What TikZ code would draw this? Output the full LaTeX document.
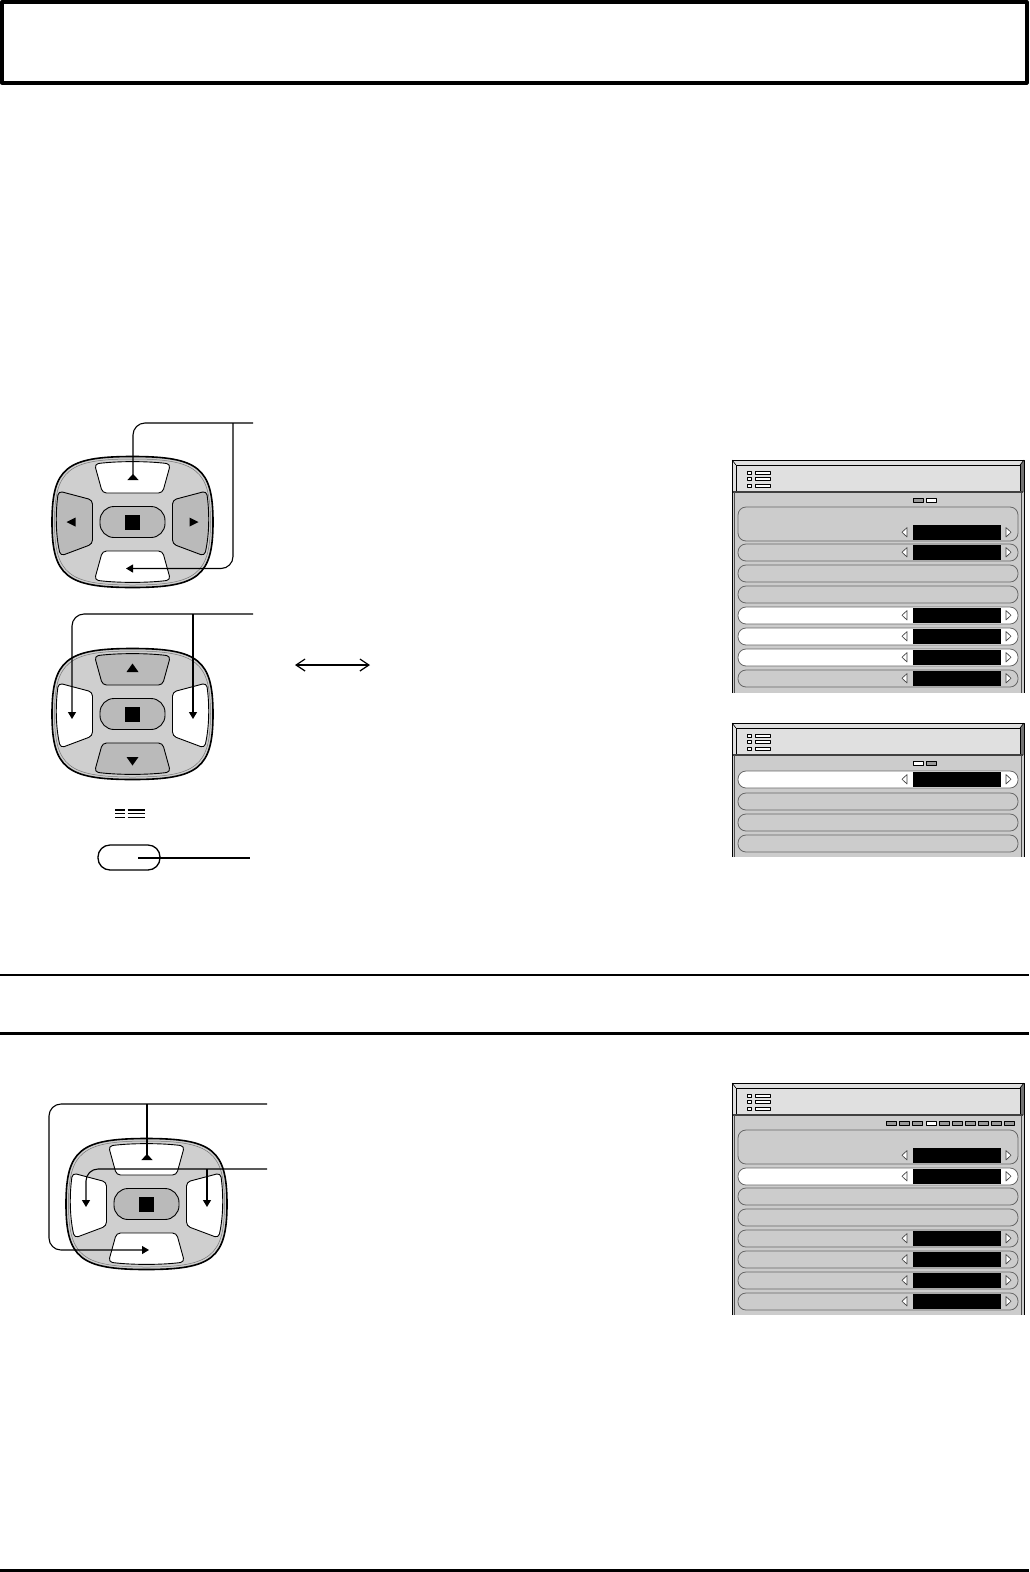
\documentclass[tikz,border=0pt]{standalone}
\usetikzlibrary{arrows.meta}
\newcommand\padring{%
  \filldraw[fill=black!19, line width=1.6pt] (80.5,0) .. controls (80.5,-54) and (66,-65.5) .. (0,-65.5) .. controls (-66,-65.5) and (-80.5,-54) .. (-80.5,0) .. controls (-80.5,54) and (-66,65.5) .. (0,65.5) .. controls (66,65.5) and (80.5,54) .. (80.5,0) -- cycle;
  \draw[black!55, line width=0.5pt] (78,0) .. controls (78,-52) and (64,-63) .. (0,-63) .. controls (-64,-63) and (-78,-52) .. (-78,0) .. controls (-78,52) and (-64,63) .. (0,63) .. controls (64,63) and (78,52) .. (78,0) -- cycle;}
\newcommand\padtop[1]{\filldraw[fill=#1, line width=0.9pt, rounded corners=4pt] (-38,-58) .. controls (-15,-61) and (15,-61) .. (38,-58) -- (30,-29) -- (-30,-29) -- cycle;}
\newcommand\padbot[1]{\filldraw[fill=#1, line width=0.9pt, rounded corners=4pt] (38,58) .. controls (15,61) and (-15,61) .. (-38,58) -- (-30,29) -- (30,29) -- cycle;}
\newcommand\padside[1]{\filldraw[fill=#1, line width=0.9pt, rounded corners=4pt] (-72,34) .. controls (-77,12) and (-77,-10) .. (-74,-31) -- (-40,-22) -- (-40,22) -- cycle;}
\newcommand\padcenter{%
  \filldraw[fill=black!27, line width=0.9pt, rounded corners=14pt] (-32.5,-15.5) rectangle (32.5,15.5);
  \fill (-7.5,-7.5) rectangle (7.5,7.5);}
\newcommand\mrow[4]{%
  \filldraw[fill=#3, draw=black!60, line width=0.8pt, rounded corners=8pt] (738,#1) rectangle (1018,#2);
  \ifnum#4=1
    \fill (913,#2-16) rectangle (1001,#2-1.5);
    \filldraw[fill=white, draw=black!75, line width=0.6pt] (902,#2-8.75) -- (907,#2-13.5) -- (907,#2-4) -- cycle;
    \filldraw[fill=white, draw=black!75, line width=0.6pt] (1006,#2-13.5) -- (1011,#2-8.75) -- (1006,#2-4) -- cycle;
  \fi}
\newcommand\mframe[1]{% #1 body bottom (local)
  \fill[black!20] (732,0) rectangle (1024,#1);
  \fill[black!12] (732,0) rectangle (1024,32);
  \fill[black!55] (1020,5) -- (1024,0) -- (1024,32) -- (1020,32) -- cycle;
  \draw[line width=0.8pt] (736,5) rectangle (1020,32);
  \draw[line width=0.6pt] (732,0) -- (736,5) (1024,0) -- (1020,5);
  \draw[line width=1.5pt, black!75] (733,32) -- (1023,32);
  \draw[line width=0.8pt, black!70] (734.5,32) -- (734.5,#1) (1021.5,32) -- (1021.5,#1);
  \draw[line width=0.8pt] (732,#1) -- (732,0) -- (1024,0) -- (1024,#1);
  \foreach \yy in {12.5,19,25.5}{
    \filldraw[fill=white, line width=0.6pt] (747,\yy-1.5) rectangle (751,\yy+1.5);
    \filldraw[fill=white, line width=0.6pt] (755,\yy-1.5) rectangle (770,\yy+1.5);}}
\newcommand\mind[2]{\filldraw[fill=#2, line width=0.6pt] (#1,38) rectangle (#1+10,42);}
\begin{document}
\begin{tikzpicture}[x=1pt,y=-1pt, line join=round,
  conn/.style={line width=1.1pt, rounded corners=12pt},
  tipup/.style={-{Triangle[reversed,length=6pt,width=11pt]}},
  tiph/.style={-{Triangle[length=7pt,width=8pt]}},
  tipdn/.style={-{Triangle[length=7pt,width=8pt]}}]
\useasboundingbox (0,0) rectangle (1029,1572);
% title box and rules
\draw[line width=4pt] (2,2) rectangle (1026.5,82.5);
\draw[line width=2.2pt] (0,975) -- (1029,975);
\draw[line width=2.2pt] (0,1033.5) -- (1029,1033.5);
\draw[line width=2.7pt] (0,1570.6) -- (1029,1570.6);

% ---------- pad 1 ----------
\begin{scope}[shift={(132.5,522)}]
  \padring
  \padtop{white}
  \padbot{white}
  \padside{black!27}
  \begin{scope}[xscale=-1]\padside{black!27}\end{scope}
  \padcenter
  \fill (-66,0) -- (-57,-4.5) -- (-57,4.5) -- cycle;
  \fill (66,0) -- (57,-4.5) -- (57,4.5) -- cycle;
\end{scope}
\coordinate (l1) at (253,423);
\coordinate (j1) at (233,423);
\coordinate (p1top) at (133,480);
\coordinate (p1bot) at (126,568.5);
\draw[conn, tipup] (l1) -| (p1top);
\draw[conn, tiph] (j1) |- (p1bot);

% ---------- pad 2 ----------
\begin{scope}[shift={(132.5,714)}]
  \padring
  \padtop{black!27}
  \padbot{black!27}
  \padside{white}
  \begin{scope}[xscale=-1]\padside{white}\end{scope}
  \padcenter
  \fill (0,-50.5) -- (6,-42) -- (-6,-42) -- cycle;
  \fill (0,51.5) -- (6,43) -- (-6,43) -- cycle;
\end{scope}
\coordinate (l2) at (253,614);
\coordinate (j2) at (193,614);
\coordinate (p2left) at (72,719);
\coordinate (p2right) at (193,719);
\draw[conn, tipdn] (l2) -| (p2left);
\draw[conn, tipdn] (j2) -- (p2right);

% double arrow
\coordinate (da1) at (295,665);
\coordinate (da2) at (370,665);
\draw[line width=1.2pt, {Straight Barb[length=9pt,width=12pt]}-{Straight Barb[length=9pt,width=12pt]}] (da1) -- (da2);

% menu icon and button
\foreach \yy in {810,813.7,817.3}{
  \draw[line width=1.5pt] (115,\yy) -- (125,\yy);
  \draw[line width=1.5pt] (127.5,\yy) -- (145,\yy);}
\filldraw[fill=white, line width=1.3pt, rounded corners=12pt] (98,845) rectangle (160,870);
\coordinate (mb) at (138,858);
\coordinate (l3) at (250,858);
\draw[line width=1.1pt] (mb) -- (l3);

% ---------- pad 3 ----------
\begin{scope}[shift={(146.5,1204)}]
  \padring
  \padtop{white}
  \padbot{white}
  \padside{white}
  \begin{scope}[xscale=-1]\padside{white}\end{scope}
  \padcenter
\end{scope}
\coordinate (l4) at (267,1104);
\coordinate (j4) at (147,1104);
\coordinate (k4) at (49,1250);
\coordinate (p3top) at (147,1160);
\coordinate (p3bot) at (149,1250);
\draw[conn, tiph] (l4) -| (k4) -- (p3bot);
\draw[conn, tipup] (j4) -- (p3top);
\coordinate (l5) at (267,1169);
\coordinate (j5) at (207,1169);
\coordinate (p3left) at (86,1207);
\coordinate (p3right) at (207,1207);
\draw[conn, tipdn] (l5) -| (p3left);
\draw[conn, tipdn] (j5) -- (p3right);

% ---------- screen 1 ----------
\begin{scope}[shift={(0,460)}]
  \mframe{233}
  \mind{913}{black!40}\mind{926}{white}
  \mrow{47}{81}{black!20}{1}
  \mrow{84}{101}{black!20}{1}
  \mrow{105}{122}{black!20}{0}
  \mrow{126}{143}{black!20}{0}
  \mrow{147}{164}{white}{1}
  \mrow{168}{185}{white}{1}
  \mrow{189}{206}{white}{1}
  \mrow{210}{227}{black!20}{1}
\end{scope}

% ---------- screen 2 ----------
\begin{scope}[shift={(0,723)}]
  \mframe{134}
  \mind{913}{white}\mind{926}{black!40}
  \mrow{48}{65}{white}{1}
  \mrow{70}{87}{black!20}{0}
  \mrow{91}{108}{black!20}{0}
  \mrow{112}{129}{black!20}{0}
\end{scope}

% ---------- screen 3 ----------
\begin{scope}[shift={(0,1083)}]
  \mframe{232}
  \foreach \i in {0,...,9}{
    \pgfmathsetmacro\xx{886.7+13.04*\i}
    \ifnum\i=3 \mind{\xx}{white}\else\mind{\xx}{black!40}\fi}
  \mrow{47}{81}{black!20}{1}
  \mrow{85}{102}{white}{1}
  \mrow{105}{122}{black!20}{0}
  \mrow{126}{143}{black!20}{0}
  \mrow{147}{164}{black!20}{1}
  \mrow{168}{185}{black!20}{1}
  \mrow{189}{206}{black!20}{1}
  \mrow{210}{227}{black!20}{1}
\end{scope}
\end{tikzpicture}
\end{document}
